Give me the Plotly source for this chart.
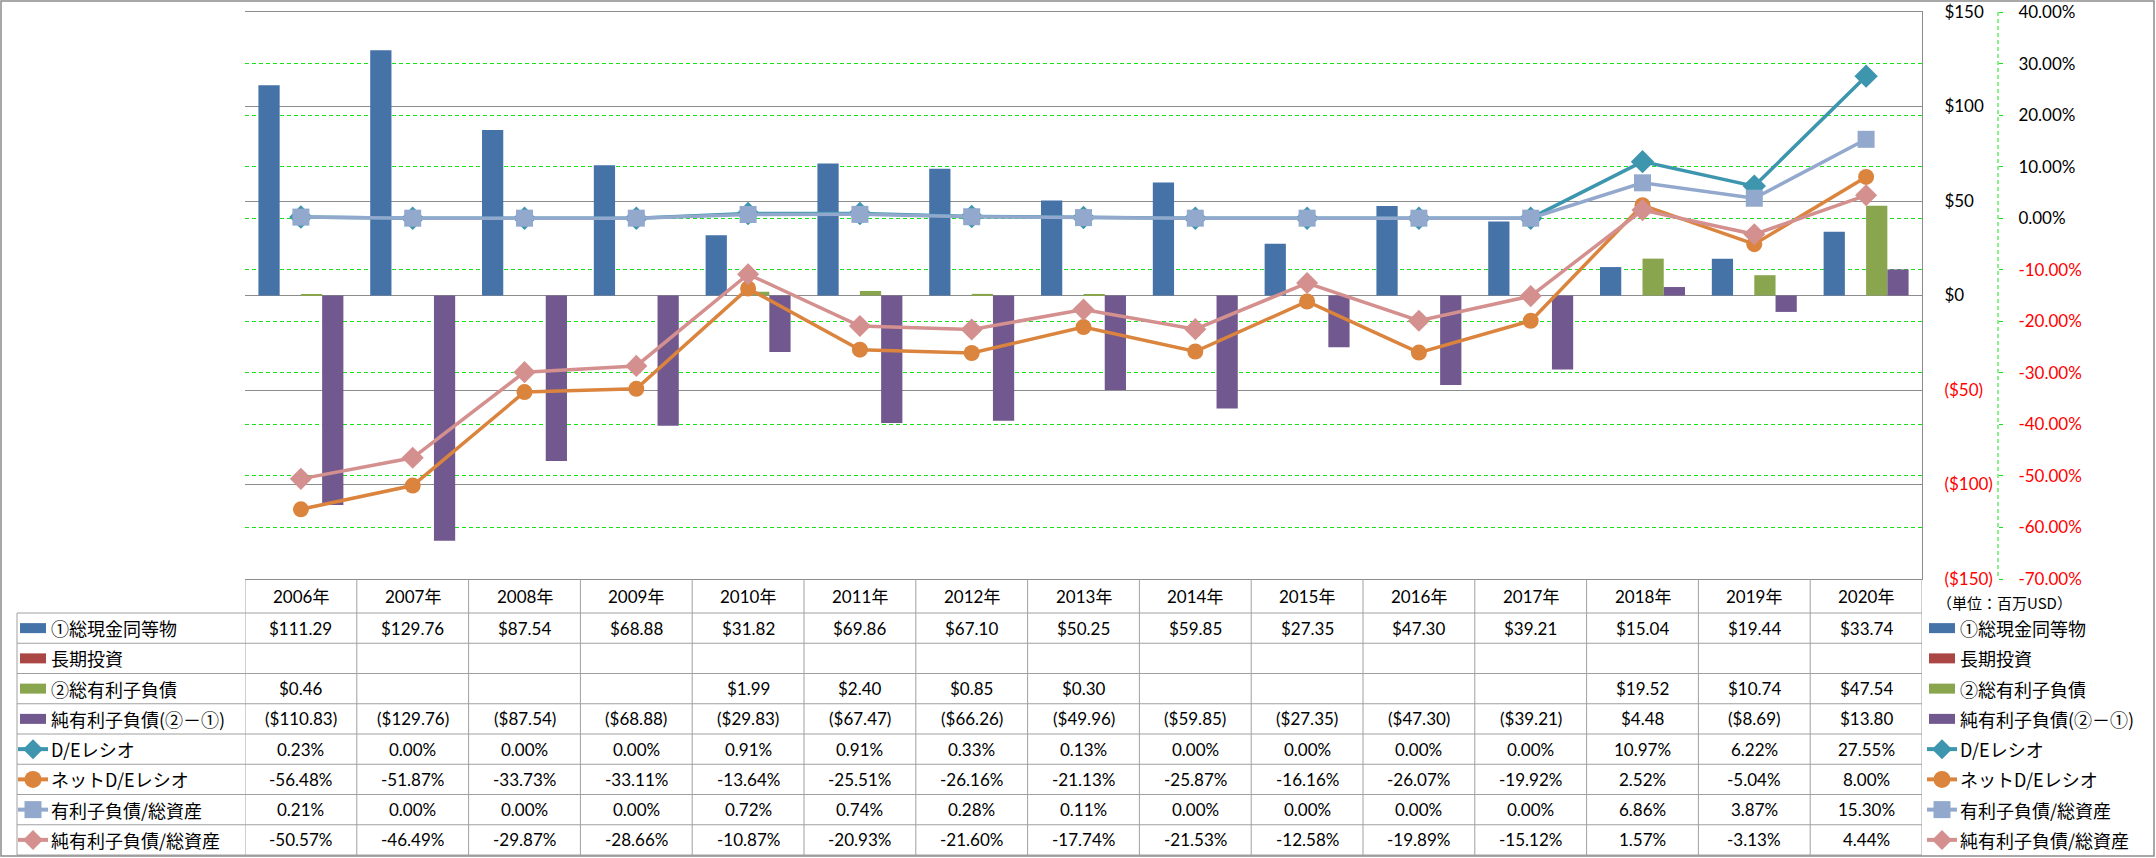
import plotly.graph_objects as go

W, H = 2156, 858

# ---------------- data ----------------
years = ["2006年", "2007年", "2008年", "2009年", "2010年", "2011年", "2012年", "2013年",
         "2014年", "2015年", "2016年", "2017年", "2018年", "2019年", "2020年"]
cash = [111.29, 129.76, 87.54, 68.88, 31.82, 69.86, 67.10, 50.25, 59.85, 27.35, 47.30, 39.21, 15.04, 19.44, 33.74]
lt_invest = [None] * 15
debt = [0.46, None, None, None, 1.99, 2.40, 0.85, 0.30, None, None, None, None, 19.52, 10.74, 47.54]
net_debt = [-110.83, -129.76, -87.54, -68.88, -29.83, -67.47, -66.26, -49.96, -59.85, -27.35, -47.30, -39.21, 4.48, -8.69, 13.80]
de_ratio = [0.23, 0.00, 0.00, 0.00, 0.91, 0.91, 0.33, 0.13, 0.00, 0.00, 0.00, 0.00, 10.97, 6.22, 27.55]
net_de_ratio = [-56.48, -51.87, -33.73, -33.11, -13.64, -25.51, -26.16, -21.13, -25.87, -16.16, -26.07, -19.92, 2.52, -5.04, 8.00]
debt_assets = [0.21, 0.00, 0.00, 0.00, 0.72, 0.74, 0.28, 0.11, 0.00, 0.00, 0.00, 0.00, 6.86, 3.87, 15.30]
net_debt_assets = [-50.57, -46.49, -29.87, -28.66, -10.87, -20.93, -21.60, -17.74, -21.53, -12.58, -19.89, -15.12, 1.57, -3.13, 4.44]

usd_ticks = [-150, -100, -50, 0, 50, 100, 150]
pct_ticks = [-70, -60, -50, -40, -30, -20, -10, 0, 10, 20, 30, 40]

bar_names = ["①総現金同等物", "長期投資", "②総有利子負債", "純有利子負債(②－①)"]
line_names = ["D/Eレシオ", "ネットD/Eレシオ", "有利子負債/総資産", "純有利子負債/総資産"]
unit_label = "（単位：百万USD）"

# ---------------- style ----------------
bar_colors = ["#4572A7", "#AA4643", "#89A54E", "#71588F"]
line_colors = ["#3D96AE", "#DB843D", "#92A8CD", "#D4908E"]
line_symbols = ["diamond", "circle", "square", "diamond"]
line_sizes = [18, 16, 17, 17]
GRID = "#8C8C8C"
CELL = "#A0A0A0"
GREEN = "#19E019"
NUM_FONT = "Lato"
JP_FONT = "Noto Sans CJK JP"

PL, PR, PT, PB = 245, 1922, 12, 579
ROW_TOP, ROW_H = 613, 30.25
LEG_L = 17
AX2_X = 1998


def fx(p):
    return p / W


def fy(p):
    return 1 - p / H


def fmt_usd(v):
    if v is None:
        return ""
    return f"(${-v:.2f})" if v < 0 else f"${v:.2f}"


def fmt_pct(v):
    return "" if v is None else f"{v:.2f}%"


def red(s):
    return f"<span style='color:#FF0000'>{s}</span>"


fig = go.Figure()
xs = list(range(len(years)))

bw = 0.19
centers = [-0.285, -0.095, 0.095, 0.285]
bar_data = [cash, lt_invest, debt, net_debt]
for name, vals, col, c in zip(bar_names, bar_data, bar_colors, centers):
    fig.add_trace(go.Bar(x=xs, y=vals, name=name, width=bw, offset=c - bw / 2,
                         marker=dict(color=col, line=dict(width=0)),
                         yaxis="y", showlegend=False))

line_data = [de_ratio, net_de_ratio, debt_assets, net_debt_assets]
for name, vals, col, sym, sz in zip(line_names, line_data, line_colors, line_symbols, line_sizes):
    fig.add_trace(go.Scatter(x=xs, y=vals, name=name, mode="lines+markers",
                             line=dict(color=col, width=3.5),
                             marker=dict(symbol=sym, size=sz, color=col, line=dict(width=0)),
                             yaxis="y2", showlegend=False, cliponaxis=False))

usd_text = [red(f"(${-v})") if v < 0 else f"${v}" for v in usd_ticks]
pct_text = [red(f"{v:.2f}%") if v < 0 else f"{v:.2f}%" for v in pct_ticks]

shapes = []
annotations = []

# table horizontal lines
for r in range(9):
    y = ROW_TOP + r * ROW_H
    shapes.append(dict(type="line", xref="paper", yref="paper", x0=fx(LEG_L), x1=fx(PR),
                       y0=fy(y), y1=fy(y), line=dict(color=CELL, width=1)))
# table vertical lines (category boundaries)
for i in range(len(years) + 1):
    shapes.append(dict(type="line", xref="x", yref="paper", x0=i - 0.5, x1=i - 0.5,
                       y0=fy(PB), y1=fy(ROW_TOP + 8 * ROW_H), line=dict(color=CELL, width=1)))
shapes.append(dict(type="line", xref="paper", yref="paper", x0=fx(LEG_L), x1=fx(LEG_L),
                   y0=fy(ROW_TOP), y1=fy(ROW_TOP + 8 * ROW_H), line=dict(color=CELL, width=1)))
# secondary axis dashed line
shapes.append(dict(type="line", xref="paper", yref="paper", x0=fx(AX2_X), x1=fx(AX2_X),
                   y0=fy(PT), y1=fy(PB), line=dict(color=GREEN, width=1, dash="4px,3px")))
# outer frame
shapes.append(dict(type="rect", xref="paper", yref="paper", x0=fx(1), x1=fx(W - 2),
                   y0=fy(H - 2), y1=fy(1), line=dict(color=GRID, width=1.5)))

# header years
for i, yr in enumerate(years):
    annotations.append(dict(x=i, y=fy((PB + ROW_TOP) / 2), xref="x", yref="paper", text=yr,
                            showarrow=False, xanchor="center", yanchor="middle",
                            font=dict(family=NUM_FONT + ", " + JP_FONT, size=17, color="black")))

rows_text = [[fmt_usd(v) for v in cash],
             [fmt_usd(v) for v in lt_invest],
             [fmt_usd(v) for v in debt],
             [fmt_usd(v) for v in net_debt],
             [fmt_pct(v) for v in de_ratio],
             [fmt_pct(v) for v in net_de_ratio],
             [fmt_pct(v) for v in debt_assets],
             [fmt_pct(v) for v in net_debt_assets]]
for r, row in enumerate(rows_text):
    yc = ROW_TOP + (r + 0.5) * ROW_H
    for i, t in enumerate(row):
        if t:
            annotations.append(dict(x=i, y=fy(yc), xref="x", yref="paper", text=t,
                                    showarrow=False, xanchor="center", yanchor="middle",
                                    font=dict(family=NUM_FONT, size=17, color="black")))

# legends (left column of table and right side)
all_names = bar_names + line_names
for r, name in enumerate(all_names):
    yc = ROW_TOP + (r + 0.5) * ROW_H
    for kx0, kx1, tx in [(19, 47, 49), (1928, 1956, 1958)]:
        if r < 4:
            shapes.append(dict(type="rect", xref="paper", yref="paper",
                               x0=fx(kx0 + 1), x1=fx(kx1 - 1), y0=fy(yc + 5), y1=fy(yc - 5),
                               fillcolor=bar_colors[r], line=dict(width=0)))
        else:
            k = r - 4
            col = line_colors[k]
            cx = (kx0 + kx1) / 2
            shapes.append(dict(type="line", xref="paper", yref="paper", x0=fx(kx0 - 1), x1=fx(kx1 + 1),
                               y0=fy(yc), y1=fy(yc), line=dict(color=col, width=4)))
            if line_symbols[k] == "diamond":
                rr = 10
                path = (f"M {fx(cx - rr)},{fy(yc)} L {fx(cx)},{fy(yc - rr)} "
                        f"L {fx(cx + rr)},{fy(yc)} L {fx(cx)},{fy(yc + rr)} Z")
                shapes.append(dict(type="path", xref="paper", yref="paper", path=path,
                                   fillcolor=col, line=dict(width=0)))
            elif line_symbols[k] == "circle":
                rr = 8.5
                shapes.append(dict(type="circle", xref="paper", yref="paper",
                                   x0=fx(cx - rr), x1=fx(cx + rr), y0=fy(yc + rr), y1=fy(yc - rr),
                                   fillcolor=col, line=dict(width=0)))
            else:
                rr = 8.5
                shapes.append(dict(type="rect", xref="paper", yref="paper",
                                   x0=fx(cx - rr), x1=fx(cx + rr), y0=fy(yc + rr), y1=fy(yc - rr),
                                   fillcolor=col, line=dict(width=0)))
        annotations.append(dict(x=fx(tx), y=fy(yc), xref="paper", yref="paper", text=name,
                                showarrow=False, xanchor="left", yanchor="middle",
                                font=dict(family=JP_FONT, size=18, color="black")))

annotations.append(dict(x=fx(1935), y=fy(602), xref="paper", yref="paper", text=unit_label,
                        showarrow=False, xanchor="left", yanchor="middle",
                        font=dict(family=JP_FONT, size=15, color="black")))

fig.update_layout(
    width=W, height=H,
    margin=dict(l=0, r=0, t=0, b=0, autoexpand=False),
    paper_bgcolor="white", plot_bgcolor="white",
    barmode="overlay",
    showlegend=False,
    xaxis=dict(domain=[fx(PL), fx(PR)], range=[-0.5, len(years) - 0.5],
               showticklabels=False, showgrid=False, zeroline=False, ticks="",
               showline=True, mirror=True, linecolor=GRID, linewidth=1),
    yaxis=dict(domain=[fy(PB), fy(PT)], range=[-150, 150], side="right",
               tickvals=usd_ticks, ticktext=usd_text, ticks="",
               showgrid=True, gridcolor=GRID, gridwidth=1,
               zeroline=True, zerolinecolor=GRID, zerolinewidth=1,
               showline=True, linecolor=GRID, linewidth=1,
               ticklabelstandoff=18, automargin=False,
               tickfont=dict(family=NUM_FONT, size=17, color="black")),
    yaxis2=dict(overlaying="y", anchor="free", position=fx(AX2_X), side="right",
                range=[-70, 40], tickvals=pct_ticks, ticktext=pct_text,
                showgrid=True, gridcolor=GREEN, gridwidth=1, griddash="4px,3px",
                zeroline=False, showline=False,
                ticks="outside", ticklen=4, tickwidth=1, tickcolor=GREEN,
                ticklabelstandoff=12, automargin=False,
                tickfont=dict(family=NUM_FONT, size=17, color="black")),
    shapes=shapes,
    annotations=annotations,
)

fig.write_html("out.html", config={"displayModeBar": False},
               post_script="document.body.style.margin='0';document.body.style.overflow='hidden';")
